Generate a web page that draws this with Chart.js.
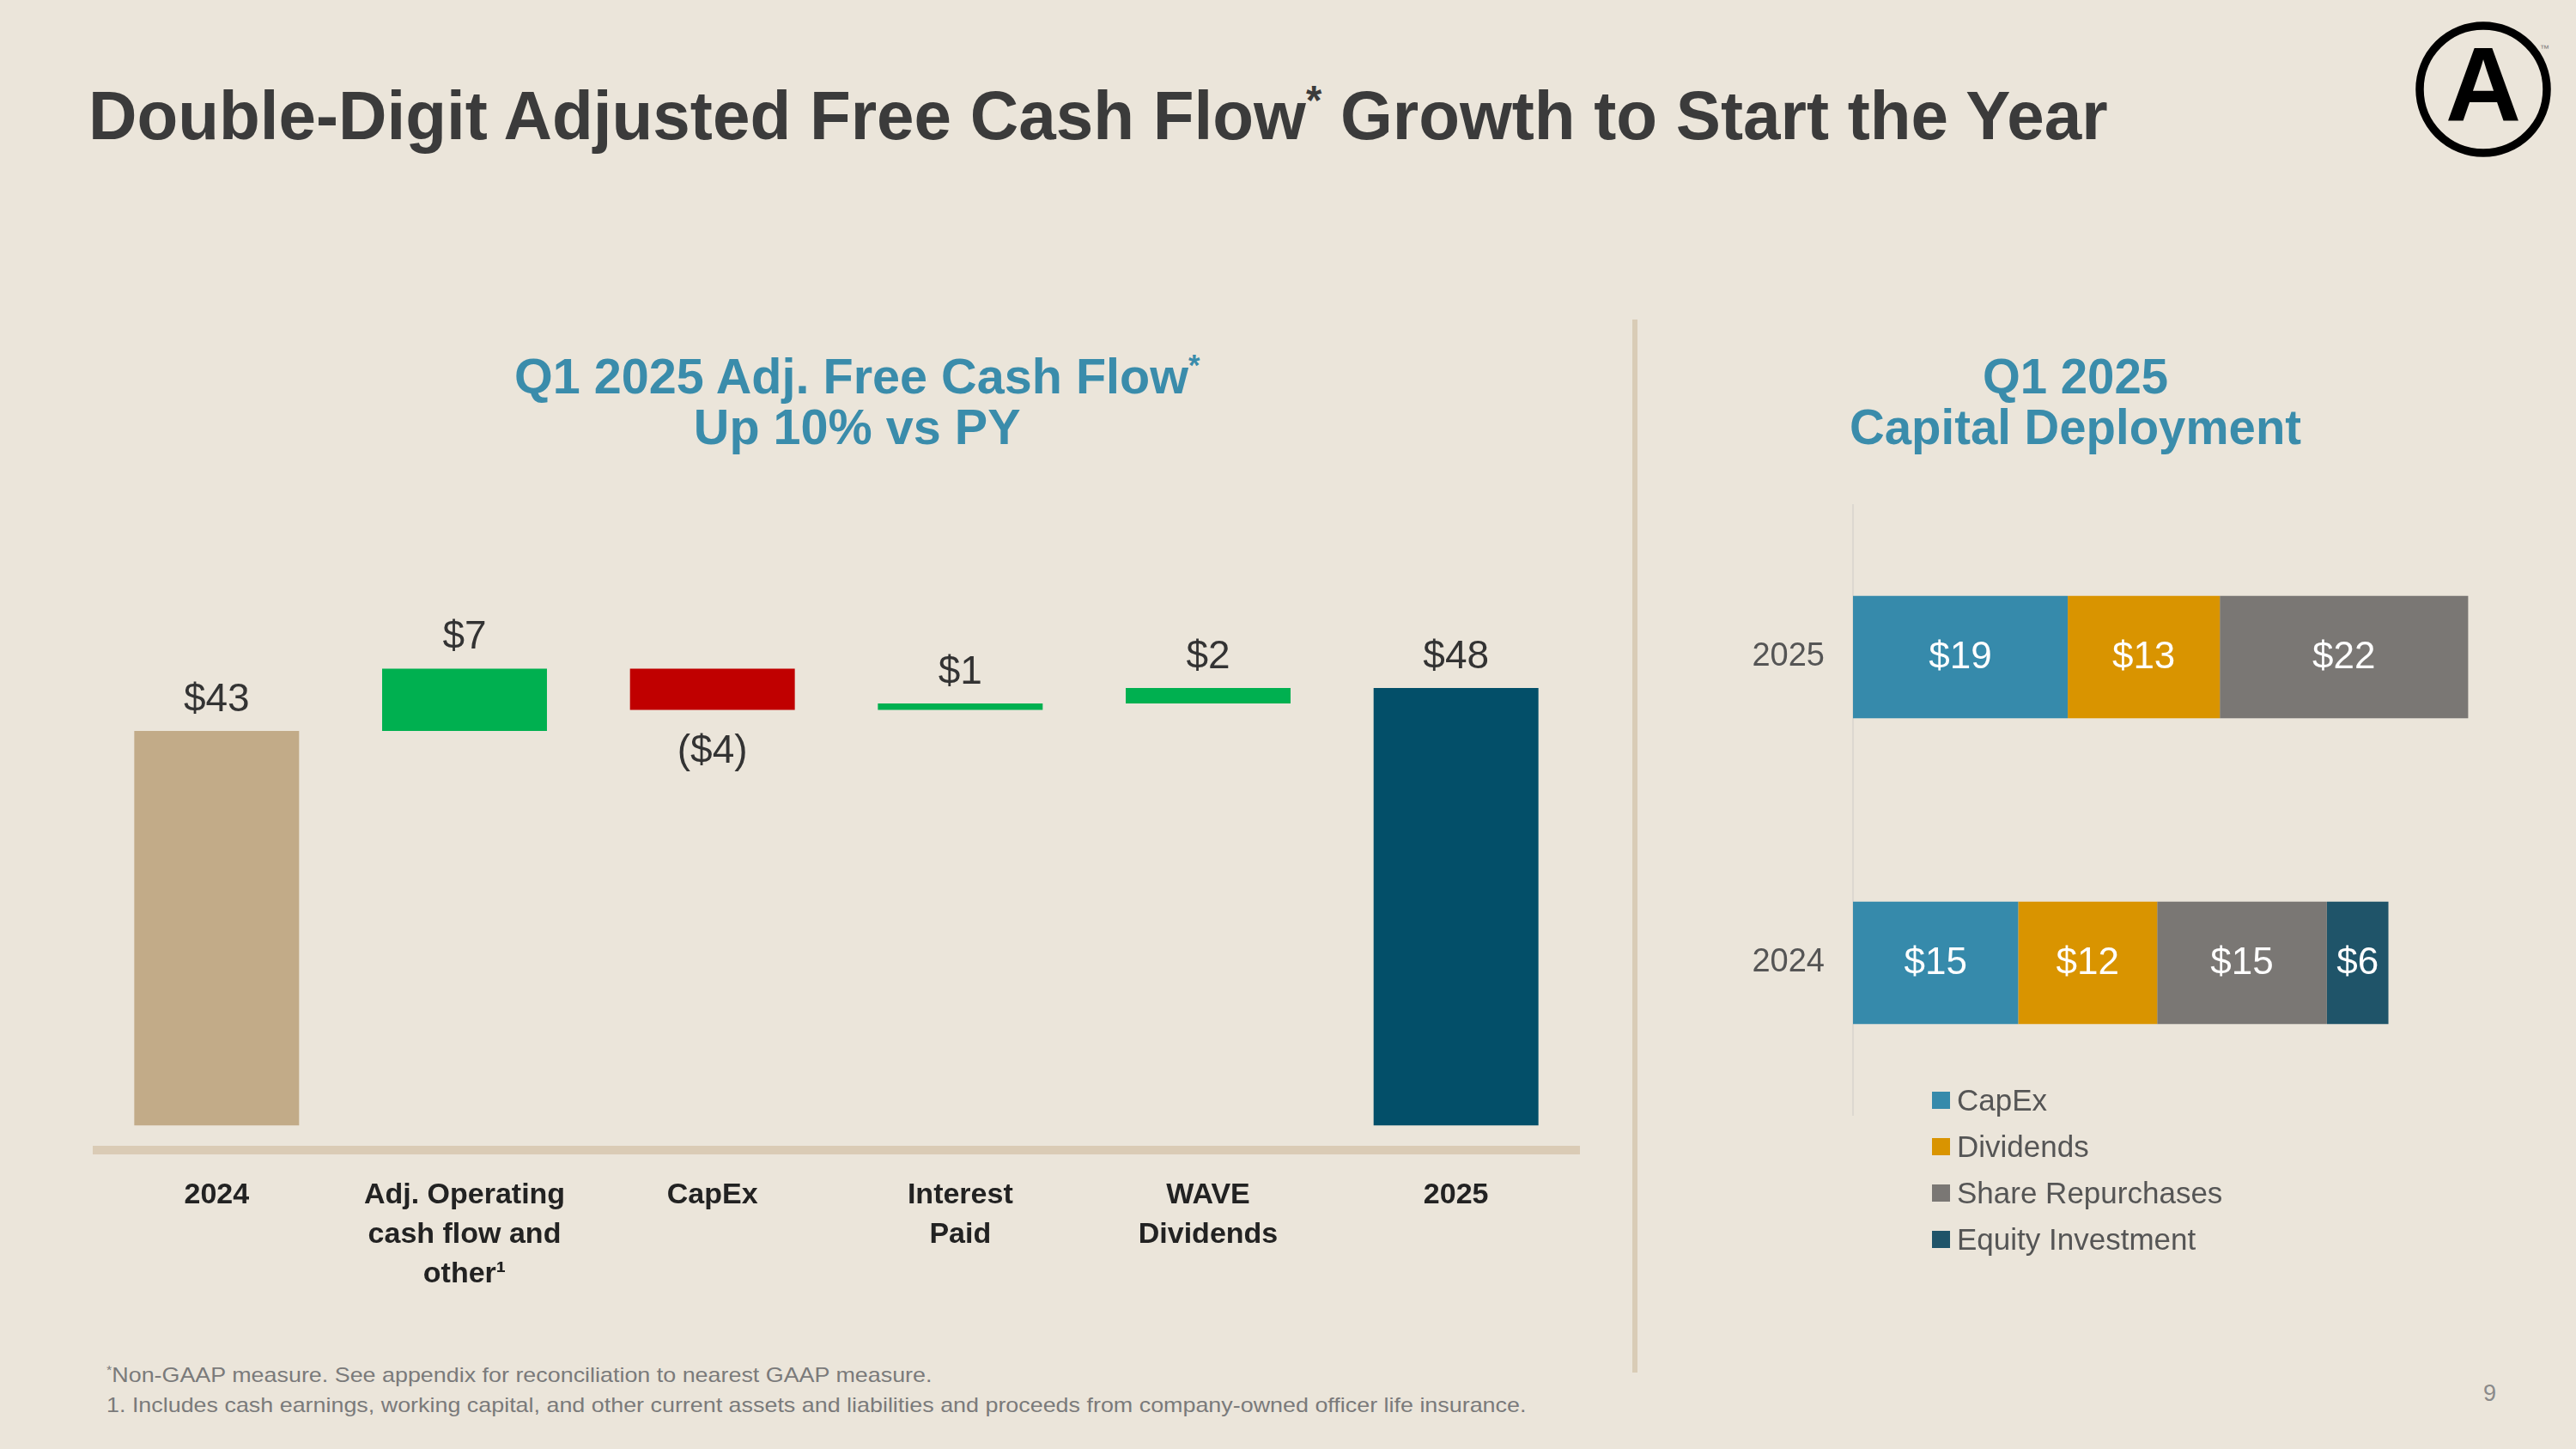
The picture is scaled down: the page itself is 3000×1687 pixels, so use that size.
<!DOCTYPE html>
<html>
<head>
<meta charset="utf-8">
<title>Double-Digit Adjusted Free Cash Flow Growth</title>
<script src="https://cdn.jsdelivr.net/npm/chart.js@4.4.1/dist/chart.umd.min.js"></script>
<style>
  html, body { margin: 0; padding: 0; }
  body { width: 3000px; height: 1687px; position: relative; overflow: hidden; background: #ebe5da; font-family: "Liberation Sans", Arial, sans-serif; }
  .txt { position: absolute; white-space: nowrap; display: inline-block; }
  .sup { font-size: 0.6em; line-height: 0; position: relative; top: -0.6em; }
  #title { left: 103px; top: 95px; font-size: 80px; line-height: 80px; font-weight: bold; color: #3b3b3b; transform-origin: left top; }
  .sub { top: 409px; font-size: 57px; line-height: 59px; font-weight: bold; color: #3a8cab; text-align: center; transform-origin: center top; }
  #divider { position: absolute; left: 1901px; top: 372px; width: 6px; height: 1226px; background: #d9ccb6; }
  #wfWrap { position: absolute; left: 108px; top: 651px; width: 1732px; height: 888px; }
  #cdWrap { position: absolute; left: 1960px; top: 587px; width: 994px; height: 712px; }
  #legend { position: absolute; left: 2250px; top: 1254px; }
  .item { display: flex; align-items: center; height: 54px; font-size: 35px; line-height: 54px; color: #555; white-space: nowrap; }
  .box { width: 21px; height: 20px; margin-right: 8px; }
  #notes { left: 124px; top: 1583px; font-size: 24px; line-height: 35px; color: #7a7a7a; transform-origin: left top; }
  #page { left: 2892px; top: 1609px; font-size: 27px; line-height: 27px; color: #8a8a8a; }
  #logo { position: absolute; left: 2810px; top: 22px; }
</style>
</head>
<body>
<div id="title" class="txt">Double-Digit Adjusted Free Cash Flow<span class="sup">*</span> Growth to Start the Year</div>

<svg id="logo" width="170" height="170" viewBox="0 0 170 170">
  <circle cx="82" cy="82" r="74" fill="none" stroke="#000" stroke-width="9.5"/>
  <text x="82" y="119" text-anchor="middle" font-family="Liberation Sans, Arial, sans-serif" font-weight="bold" font-size="122" fill="#000">A</text>
  <text x="148" y="38" font-family="Liberation Sans, Arial, sans-serif" font-size="11" fill="#777">™</text>
</svg>

<div id="subLeft" class="txt sub">Q1 2025 Adj. Free Cash Flow<span class="sup">*</span><br>Up 10% vs PY</div>
<div id="subRight" class="txt sub">Q1 2025<br>Capital Deployment</div>

<div id="divider"></div>

<div id="wfWrap"><canvas id="wfChart"></canvas></div>
<div id="cdWrap"><canvas id="cdChart"></canvas></div>
<div id="legend"></div>

<div id="notes" class="txt"><span class="sup">*</span>Non-GAAP measure. See appendix for reconciliation to nearest GAAP measure.<br>1. Includes cash earnings, working capital, and other current assets and liabilities and proceeds from company-owned officer life insurance.</div>
<div id="page" class="txt">9</div>

<script>
// Left chart: Q1 adjusted free cash flow bridge ($M)
const wfCategories = ['2024', ['Adj. Operating', 'cash flow and', 'other¹'], 'CapEx', ['Interest', 'Paid'], ['WAVE', 'Dividends'], '2025'];
const wfStart = [0, 43.2, 50.0, 45.5, 46.2, 0];
const wfEnd = [43.2, 50.0, 45.5, 46.2, 47.9, 47.9];
const wfLabels = ['$43', '$7', '($4)', '$1', '$2', '$48'];
const wfColors = ['#c2ab88', '#00b050', '#c00000', '#00b050', '#00b050', '#034f69'];

// Right chart: capital deployment ($M)
const cdYears = ['2025', '2024'];
const cdSeries = ['CapEx', 'Dividends', 'Share Repurchases', 'Equity Investment'];
const capex = [18.85, 14.5];
const dividends = [13.35, 12.2];
const repurchases = [21.8, 14.9];
const equity = [null, 5.4];
const capexLabels = ['$19', '$15'];
const dividendLabels = ['$13', '$12'];
const repurchaseLabels = ['$22', '$15'];
const equityLabels = ['', '$6'];
const cdColors = ['#368aab', '#d99400', '#7a7774', '#1f5469'];

const baseFont = '"Liberation Sans", Arial, sans-serif';

function fitWidth(id, target, centerX) {
	const el = document.getElementById(id);
	const w = el.offsetWidth;
	if (centerX !== undefined) {
		el.style.left = (centerX - w / 2) + 'px';
	}
	el.style.transform = `scaleX(${target / w})`;
}

const wfLabelPlugin = {
	id: 'wfLabels',
	afterDatasetsDraw(chart) {
		const ctx = chart.ctx;
		const meta = chart.getDatasetMeta(0);
		ctx.save();
		ctx.font = `46px ${baseFont}`;
		ctx.fillStyle = '#333333';
		ctx.textAlign = 'center';
		ctx.textBaseline = 'middle';
		meta.data.forEach((bar, i) => {
			const top = Math.min(bar.y, bar.base);
			const bottom = Math.max(bar.y, bar.base);
			const down = wfEnd[i] < wfStart[i];
			ctx.fillText(wfLabels[i], bar.x, down ? bottom + 49 : top - 36);
		});
		ctx.restore();
	}
};

const cdLabelPlugin = {
	id: 'cdLabels',
	afterDatasetsDraw(chart) {
		const ctx = chart.ctx;
		ctx.save();
		ctx.font = `44px ${baseFont}`;
		ctx.fillStyle = '#ffffff';
		ctx.textAlign = 'center';
		ctx.textBaseline = 'middle';
		chart.data.datasets.forEach((ds, d) => {
			const meta = chart.getDatasetMeta(d);
			meta.data.forEach((bar, i) => {
				if (ds.data[i] == null) return;
				const c = bar.getCenterPoint();
				ctx.fillText(ds.labels[i], c.x, c.y + 1);
			});
		});
		ctx.restore();
	}
};

function createWaterfall() {
	const ctx = document.getElementById('wfChart').getContext('2d');
	new Chart(ctx, {
		type: 'bar',
		data: {
			labels: wfCategories,
			datasets: [{
				data: wfStart.map((s, i) => [s, wfEnd[i]]),
				backgroundColor: wfColors,
				borderWidth: 0,
				borderSkipped: false,
				barPercentage: 0.665,
				categoryPercentage: 1.0
			}]
		},
		options: {
			responsive: true,
			maintainAspectRatio: false,
			animation: false,
			layout: { padding: 0 },
			plugins: { legend: { display: false }, tooltip: { enabled: false } },
			scales: {
				x: {
					grid: { display: false, drawTicks: false },
					border: { display: true, color: '#dacbb5', width: 10 },
					ticks: {
						color: '#222222',
						font: { family: baseFont, size: 34, weight: 'bold', lineHeight: 1.35 },
						padding: 30,
						maxRotation: 0,
						autoSkip: false
					},
					afterFit: scale => { scale.height = 200; }
				},
				y: { display: false, min: -2.7, max: 62 }
			}
		},
		plugins: [wfLabelPlugin]
	});
}

function createDeployment() {
	const ctx = document.getElementById('cdChart').getContext('2d');
	const series = [capex, dividends, repurchases, equity];
	const labels = [capexLabels, dividendLabels, repurchaseLabels, equityLabels];
	new Chart(ctx, {
		type: 'bar',
		data: {
			labels: cdYears,
			datasets: series.map((values, i) => ({
				label: cdSeries[i],
				data: values,
				labels: labels[i],
				backgroundColor: cdColors[i],
				borderWidth: 0,
				barPercentage: 0.4,
				categoryPercentage: 1.0
			}))
		},
		options: {
			indexAxis: 'y',
			responsive: true,
			maintainAspectRatio: false,
			animation: false,
			layout: { padding: 0 },
			plugins: { legend: { display: false }, tooltip: { enabled: false } },
			scales: {
				x: { stacked: true, display: false, min: 0, max: 60 },
				y: {
					stacked: true,
					grid: { display: false, drawTicks: false },
					border: { display: true, color: '#dcd8d0', width: 2 },
					ticks: { color: '#555555', font: { family: baseFont, size: 38 }, padding: 33 },
					afterFit: scale => {
						scale.width = 198;
						scale.paddingTop = 0;
						scale.paddingBottom = 0;
					}
				}
			}
		},
		plugins: [cdLabelPlugin]
	});

	const legend = document.getElementById('legend');
	cdSeries.forEach((name, i) => {
		const item = document.createElement('div');
		item.className = 'item';
		item.innerHTML = `<span class="box" style="background:${cdColors[i]}"></span><span>${name}</span>`;
		legend.appendChild(item);
	});
}

function init() {
	fitWidth('title', 2352);
	fitWidth('subLeft', 798, 998);
	fitWidth('subRight', 526, 2417);
	fitWidth('notes', 1653);
	createWaterfall();
	createDeployment();
}

document.addEventListener('DOMContentLoaded', init);
</script>
</body>
</html>
